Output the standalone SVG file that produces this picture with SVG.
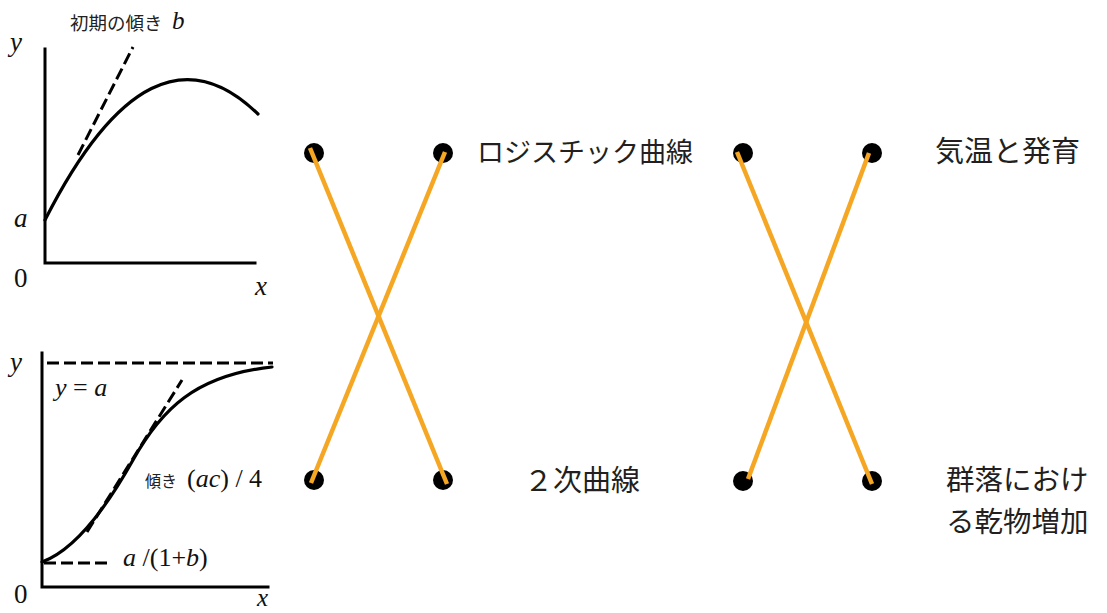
<svg xmlns="http://www.w3.org/2000/svg" width="1107" height="613" viewBox="0 0 1107 613">
<style>
.ax{fill:none;stroke:#000;stroke-width:3;stroke-linecap:square}
.cv{fill:none;stroke:#000;stroke-width:3.2;stroke-linecap:round}
.ds{fill:none;stroke:#000;stroke-width:3;stroke-dasharray:12 5}
.m{font-family:"Liberation Serif",serif;font-style:italic;fill:#111}
.n{font-family:"Liberation Serif",serif;font-style:normal;fill:#111}
.jp{font-family:"Noto Sans CJK JP",sans-serif;fill:#222}
.lb{font-family:"Noto Sans CJK JP",sans-serif;fill:#231f20}
.dot{fill:#000}
.ln{stroke:#F5A623;stroke-width:4.5;fill:none}
</style>
<rect width="1107" height="613" fill="#fff"/>
<g id="graph1">
<path class="ax" d="M45,49 V263 H255"/>
<path class="cv" d="M45,220 Q151.5,10 258,114"/>
<path class="ds" d="M78,155 L133,47"/>
<text class="jp" x="70" y="30" font-size="18.5">初期の傾き</text>
<text class="m" x="172" y="29" font-size="25">b</text>
<text class="m" x="10" y="51" font-size="27">y</text>
<text class="m" x="14" y="227" font-size="27">a</text>
<text class="n" x="14" y="287" font-size="27">0</text>
<text class="m" x="255" y="295" font-size="27">x</text>
</g>
<g id="graph2">
<path class="ax" d="M42,353 V587 H268"/>
<path class="ds" d="M47,363 H273"/>
<path class="ds" d="M44,563 H110"/>
<path class="cv" d="M42,562 C75,550 105,510 133,460 S195,375 272,367"/>
<path class="ds" d="M87,532 L182,380"/>
<text class="m" x="10" y="371" font-size="27">y</text>
<text class="m" x="55" y="396" font-size="26">y <tspan class="n">=</tspan> a</text>
<text class="jp" x="145" y="487" font-size="16">傾き</text>
<text class="n" x="187" y="487" font-size="26">(<tspan class="m">ac</tspan>) / 4</text>
<text class="m" x="123" y="566" font-size="26">a <tspan class="n">/(1+</tspan>b<tspan class="n">)</tspan></text>
<text class="n" x="14" y="603" font-size="27">0</text>
<text class="m" x="257" y="606" font-size="25">x</text>
</g>
<g id="nodes">
<g id="n1"><circle class="dot" cx="314" cy="153" r="10"/></g>
<g id="n2"><circle class="dot" cx="443" cy="153" r="10"/></g>
<g id="n3"><circle class="dot" cx="314" cy="480" r="10"/></g>
<g id="n4"><circle class="dot" cx="443" cy="480" r="10"/></g>
<g id="n5"><circle class="dot" cx="743" cy="153" r="10"/></g>
<g id="n6"><circle class="dot" cx="872" cy="153" r="10"/></g>
<g id="n7"><circle class="dot" cx="743" cy="481" r="10"/></g>
<g id="n8"><circle class="dot" cx="872" cy="481" r="10"/></g>
</g>
<g id="connectors">
<line class="ln" x1="310" y1="148" x2="447" y2="484"/>
<line class="ln" x1="445" y1="152" x2="311" y2="483"/>
<line class="ln" x1="737" y1="152" x2="872" y2="484"/>
<line class="ln" x1="869" y1="153" x2="748" y2="479"/>
</g>
<g id="labels">
<g id="l1"><text class="lb" x="477" y="162" font-size="27">ロジスチック曲線</text></g>
<g id="l2"><text class="lb" x="935" y="162" font-size="29">気温と発育</text></g>
<g id="l3"><text class="lb" x="524" y="491" font-size="29">２次曲線</text></g>
<g id="l4"><text class="lb" x="946" y="489.5" font-size="28.5">群落におけ</text><text class="lb" x="946" y="531.5" font-size="28.5">る乾物増加</text></g>
</g>
</svg>
